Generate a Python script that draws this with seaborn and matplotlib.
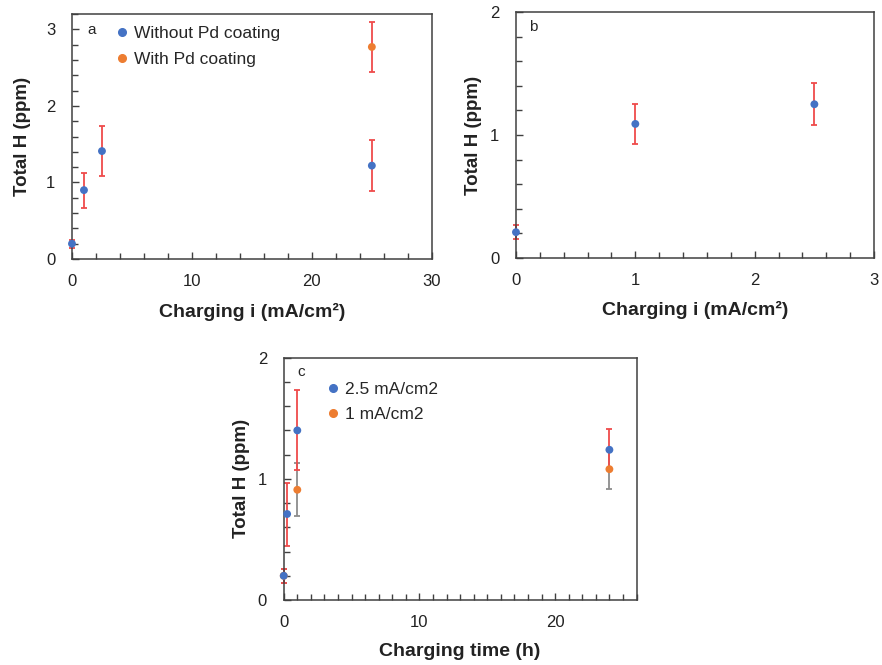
import matplotlib
matplotlib.use("Agg")
import matplotlib.pyplot as plt
import seaborn as sns
import pandas as pd
from matplotlib.ticker import MultipleLocator
from matplotlib.lines import Line2D

# ---- datos panel a: H total vs densidad de corriente
a_x_sin = [0, 1, 2.5, 25]
a_y_sin = [0.2, 0.9, 1.41, 1.22]
a_e_sin = [0.05, 0.23, 0.33, 0.33]
a_x_con = [25]
a_y_con = [2.77]
a_e_con = [0.33]
a_labels = ["Without Pd coating", "With Pd coating"]

# ---- datos panel b
b_x = [0, 1, 2.5]
b_y = [0.21, 1.09, 1.25]
b_e = [0.055, 0.165, 0.17]

# ---- datos panel c: H total vs tiempo de carga
c_x_25 = [0, 0.25, 1, 24]
c_y_25 = [0.2, 0.71, 1.4, 1.24]
c_e_25 = [0.06, 0.26, 0.33, 0.17]
c_x_1 = [0, 1, 24]
c_y_1 = [0.2, 0.91, 1.08]
c_e_1 = [0.06, 0.22, 0.165]
c_labels = ["2.5 mA/cm2", "1 mA/cm2"]

azul = "#4472C4"
naranja = "#ED7D31"
rojo = "#EF4B4B"
gris = "#8C8C8C"
marco = "#404040"

sns.set_theme(style="white")
plt.rcParams["font.family"] = ["Liberation Sans", "DejaVu Sans"]

fig = plt.figure(figsize=(8.82, 6.65), dpi=100)
ax_a = fig.add_axes([0.0816, 0.6105, 0.408, 0.3684])
ax_b = fig.add_axes([0.585, 0.612, 0.406, 0.370])
ax_c = fig.add_axes([0.3217, 0.0977, 0.400, 0.3644])


def estilo(ax, xlim, ylim, xmaj, xmin, ymaj, ymin, xlabel, xl_pos, yl_pos):
    ax.set_xlim(*xlim)
    ax.set_ylim(*ylim)
    ax.xaxis.set_major_locator(MultipleLocator(xmaj))
    ax.xaxis.set_minor_locator(MultipleLocator(xmin))
    ax.yaxis.set_major_locator(MultipleLocator(ymaj))
    ax.yaxis.set_minor_locator(MultipleLocator(ymin))
    ax.tick_params(which="both", direction="in", color=marco, width=1.0,
                   bottom=True, left=True, labelsize=12, labelcolor="#222222")
    ax.tick_params(axis="x", which="major", pad=11)
    ax.tick_params(axis="y", which="major", pad=12)
    ax.tick_params(which="major", length=5)
    ax.tick_params(which="minor", length=4)
    for s in ax.spines.values():
        s.set_color(marco)
        s.set_linewidth(1.1)
    ax.set_xlabel(xlabel, fontsize=14, fontweight="bold", color="#222222", va="center")
    ax.set_ylabel("Total H (ppm)", fontsize=13.5, fontweight="bold", color="#222222", va="center")
    ax.xaxis.set_label_coords(0.5, xl_pos)
    ax.yaxis.set_label_coords(yl_pos, 0.5)


def puntos(ax, x, y, e, col, col_err, z=3):
    ax.errorbar(x, y, yerr=e, fmt="none", ecolor=col_err, elinewidth=1.3,
                capsize=2.5, capthick=1.3, zorder=2, clip_on=False)
    df = pd.DataFrame({"x": x, "y": y})
    sns.scatterplot(data=df, x="x", y="y", ax=ax, color=col, s=32,
                    edgecolor="none", zorder=z, legend=False, clip_on=False)


def leyenda(ax, labels, cols, y0):
    h = [Line2D([], [], marker="o", ls="none", color=c, markersize=5.5) for c in cols]
    ax.legend(h, labels, loc="upper left", bbox_to_anchor=(0.09, y0), frameon=False,
              fontsize=12.5, handletextpad=0.1, handlelength=1.2, labelspacing=0.6,
              borderaxespad=0)


# panel a
puntos(ax_a, a_x_sin, a_y_sin, a_e_sin, azul, rojo)
puntos(ax_a, a_x_con, a_y_con, a_e_con, naranja, rojo)
estilo(ax_a, (0, 30), (0, 3.2), 10, 2, 1, 0.2, "Charging i (mA/cm²)", -0.216, -0.138)
leyenda(ax_a, a_labels, [azul, naranja], 0.98)
ax_a.text(0.055, 0.935, "a", transform=ax_a.transAxes, fontsize=11, ha="center", va="center")

# panel b
puntos(ax_b, b_x, b_y, b_e, azul, rojo)
estilo(ax_b, (0, 3), (0, 2), 1, 0.2, 1, 0.2, "Charging i (mA/cm²)", -0.211, -0.118)
ax_b.text(0.048, 0.94, "b", transform=ax_b.transAxes, fontsize=11, ha="center", va="center")

# panel c (el azul queda encima del naranja en t=0)
puntos(ax_c, c_x_1, c_y_1, c_e_1, naranja, gris, z=3)
puntos(ax_c, c_x_25, c_y_25, c_e_25, azul, rojo, z=4)
estilo(ax_c, (0, 26), (0, 2), 10, 1, 1, 0.2, "Charging time (h)", -0.213, -0.12)
leyenda(ax_c, c_labels, [azul, naranja], 0.93)
ax_c.text(0.05, 0.94, "c", transform=ax_c.transAxes, fontsize=11, ha="center", va="center")

fig.savefig("out.png", dpi=100)
